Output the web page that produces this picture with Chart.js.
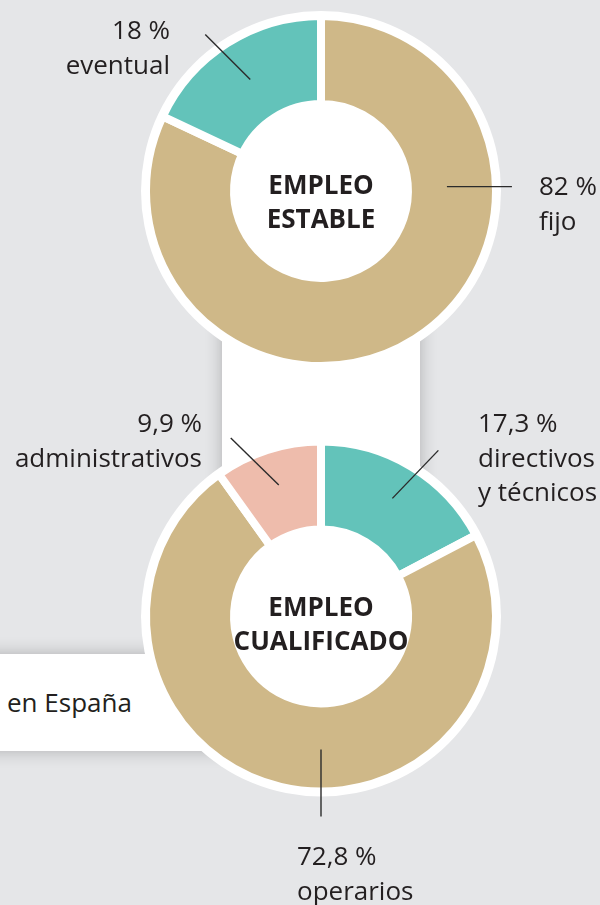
<!DOCTYPE html>
<html>
<head>
<meta charset="utf-8">
<script src="https://cdn.jsdelivr.net/npm/chart.js@4.4.1/dist/chart.umd.min.js"></script>
<style>
  html, body { margin: 0; padding: 0; }
  body { width: 600px; height: 905px; background: #e5e6e8; position: relative; overflow: hidden; font-family: 'Open Sans', sans-serif; }
  .bridge { position: absolute; left: 222px; top: 300px; width: 198px; height: 200px; background: #fff; box-shadow: 0 0 16px rgba(0,0,0,0.24); }
  .box { position: absolute; left: -30px; top: 654px; width: 290px; height: 97px; background: #fff; box-shadow: 0 0 16px rgba(0,0,0,0.24); }
  .box span { position: absolute; left: 37px; top: 48px; transform: translateY(-50%); font-size: 26px; color: #231f20; }
  canvas { position: absolute; left: 0; }
  #top { top: 0; }
  #bottom { top: 400px; }
</style>
</head>
<body>
<div class="bridge"></div>
<div class="box"><span>en España</span></div>
<canvas id="top" width="600" height="400"></canvas>
<canvas id="bottom" width="600" height="505"></canvas>
<script>
// Empleo estable: tipo de contrato (%)
const contractLabels = [['fijo'], ['eventual']];
const contractValues = [82, 18];
// Empleo cualificado: categoria profesional (%)
const qualLabels = [['directivos', 'y técnicos'], ['operarios'], ['administrativos']];
const qualValues = [17.3, 72.8, 9.9];

const TAN = '#cfb888';
const TEAL = '#63c3ba';
const PINK = '#eebcac';
const INK = '#231f20';
const BORDER = 8;

function fmt(v) {
  return v.toLocaleString('es-ES') + ' %';
}

// padding so the ring sits at (cx, cy) with the given outer radius
function padFor(cx, cy, radius, w, h) {
  const half = radius + BORDER / 2;
  return { left: cx - half, top: cy - half, right: w - (cx + half), bottom: h - (cy + half) };
}

// white disc behind the ring, centre title, leader lines and labels
const decor = {
  id: 'decor',
  beforeDatasetsDraw(chart, args, opts) {
    const arc = chart.getDatasetMeta(0).data[0];
    const ctx = chart.ctx;
    ctx.save();
    ctx.fillStyle = '#fff';
    ctx.beginPath();
    ctx.arc(arc.x, arc.y, arc.outerRadius + 5, 0, Math.PI * 2);
    ctx.fill();
    ctx.restore();
  },
  afterDatasetsDraw(chart, args, opts) {
    const meta = chart.getDatasetMeta(0);
    const ds = chart.data.datasets[0];
    const ctx = chart.ctx;
    const a0 = meta.data[0];
    ctx.save();
    ctx.fillStyle = INK;
    ctx.textAlign = 'center';
    ctx.textBaseline = 'middle';
    ctx.font = 'bold 26px "Open Sans"';
    opts.title.forEach((t, i) => ctx.fillText(t, a0.x, a0.y + opts.titleDy + (i - (opts.title.length - 1) / 2) * 34));

    ctx.font = '26px "Open Sans"';
    meta.data.forEach((el, i) => {
      const lay = opts.layout[i];
      const ang = lay.angle != null ? lay.angle * Math.PI / 180 : (el.startAngle + el.endAngle) / 2 + Math.PI / 2;
      const r = lay.r;
      const sx = el.x + Math.sin(ang) * r;
      const sy = el.y - Math.cos(ang) * r;
      ctx.strokeStyle = '#2b2b2b';
      ctx.lineWidth = 1.4;
      ctx.beginPath();
      ctx.moveTo(sx, sy);
      ctx.lineTo(sx + lay.line[0], sy + lay.line[1]);
      ctx.stroke();
      const lines = [fmt(ds.data[i])].concat(chart.data.labels[i]);
      ctx.textAlign = lay.align;
      lines.forEach((t, j) => ctx.fillText(t, lay.x, lay.y + j * 34.5));
    });
    ctx.restore();
  }
};

function donut(id, labels, values, colors, center, title, titleDy, layout) {
  const canvas = document.getElementById(id);
  return new Chart(canvas.getContext('2d'), {
    type: 'doughnut',
    data: {
      labels,
      datasets: [{
        data: values,
        backgroundColor: colors,
        borderColor: '#fff',
        borderWidth: BORDER,
        hoverBorderWidth: BORDER,
        offset: 0,
        hoverOffset: 0,
      }],
    },
    options: {
      responsive: false,
      animation: false,
      events: [],
      cutout: '49.7%',
      layout: { padding: padFor(center[0], center[1], 175, canvas.width, canvas.height) },
      plugins: {
        legend: { display: false },
        tooltip: { enabled: false },
        decor: { title, titleDy, layout },
      },
    },
    plugins: [decor],
  });
}

donut('top', contractLabels, contractValues, [TAN, TEAL], [321, 191], ['EMPLEO', 'ESTABLE'], 13, [
  { angle: 88, r: 126, line: [65, 0], x: 539, y: 188, align: 'left' },
  { angle: null, r: 132, line: [-45, -45], x: 170, y: 32, align: 'right' },
]);

donut('bottom', qualLabels, qualValues, [TEAL, TAN, PINK], [321, 216.5], ['EMPLEO', 'CUALIFICADO'], 9, [
  { angle: null, r: 138, line: [46, -48], x: 478, y: 25, align: 'left' },
  { angle: 180, r: 133, line: [0, 67], x: 297, y: 458, align: 'left' },
  { angle: null, r: 138, line: [-48, -47], x: 202, y: 25, align: 'right' },
]);
</script>
</body>
</html>
